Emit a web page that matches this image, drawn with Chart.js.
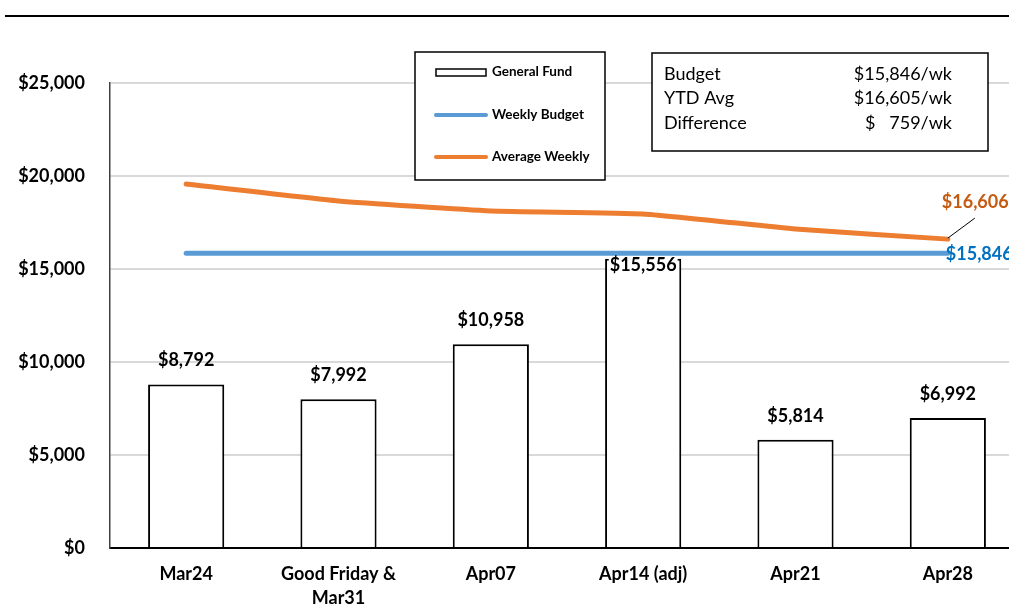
<!DOCTYPE html>
<html>
<head>
<meta charset="utf-8">
<script src="https://cdn.jsdelivr.net/npm/chart.js@4.4.1/dist/chart.umd.min.js"></script>
<style>
  html, body { margin: 0; padding: 0; background: #fff; overflow: hidden; }
  #wrap { position: relative; width: 1040px; height: 605px; }
</style>
</head>
<body>
<div id="wrap"><canvas id="fund-chart"></canvas></div>
<script>
const categories = ['Mar24', ['Good Friday &', 'Mar31'], 'Apr07', 'Apr14 (adj)', 'Apr21', 'Apr28'];
const generalFund = [8792, 7992, 10958, 15556, 5814, 6992];
const weeklyBudget = [15846, 15846, 15846, 15846, 15846, 15846];
const averageWeekly = [19570, 18660, 18120, 17960, 17150, 16606];
const yMin = 0, yMax = 25000, yStep = 5000;
const infoLabels = ['Budget', 'YTD Avg', 'Difference'];
const infoValues = ['$15,846/wk', '$16,605/wk', '$   759/wk'];

const FONT = 'Lato, "Noto Sans", sans-serif';
const money = v => '$' + v.toLocaleString('en-US');

// labels, boxes and the little leader line
const extras = {
  id: 'extras',
  afterDatasetsDraw(chart) {
    const ctx = chart.ctx;
    ctx.save();
    ctx.font = 'bold 18px ' + FONT;
    ctx.textAlign = 'center';
    ctx.textBaseline = 'middle';
    const bars = chart.getDatasetMeta(0).data;
    bars.forEach((bar, i) => {
      const txt = money(generalFund[i]);
      if (i === 3) {
        // this one sits on the bar top, with a white back
        const w = ctx.measureText(txt).width;
        const y = bar.y + 7;
        ctx.fillStyle = '#fff';
        ctx.fillRect(bar.x - w / 2 - 1, y - 9, w + 2, 17);
        ctx.fillStyle = '#000';
        ctx.fillText(txt, bar.x, y);
      } else {
        ctx.fillStyle = '#000';
        ctx.fillText(txt, bar.x, bar.y - 24);
      }
    });

    // end labels
    const avgPt = chart.getDatasetMeta(2).data[5];
    const budPt = chart.getDatasetMeta(1).data[5];
    ctx.textAlign = 'left';
    ctx.fillStyle = '#C55A11';
    ctx.fillText(money(averageWeekly[5]), avgPt.x - 6, avgPt.y - 37);
    ctx.fillStyle = '#0070C0';
    ctx.fillText(money(weeklyBudget[5]), budPt.x - 2, budPt.y + 1);
    ctx.strokeStyle = '#000';
    ctx.lineWidth = 1;
    ctx.beginPath();
    ctx.moveTo(avgPt.x, avgPt.y - 1);
    ctx.lineTo(avgPt.x + 27, avgPt.y - 21);
    ctx.stroke();
    ctx.restore();
  },
  afterDraw(chart) {
    const ctx = chart.ctx;
    ctx.save();
    // top rule
    ctx.strokeStyle = '#000';
    ctx.lineWidth = 2;
    ctx.beginPath();
    ctx.moveTo(5, 16);
    ctx.lineTo(1040, 16);
    ctx.stroke();

    // legend box
    ctx.fillStyle = '#fff';
    ctx.fillRect(415, 52, 190, 128);
    ctx.lineWidth = 1.5;
    ctx.strokeRect(415, 52, 190, 128);
    ctx.lineWidth = 1.5;
    ctx.strokeRect(436, 69, 50, 7);
    ctx.lineCap = 'round';
    ctx.lineWidth = 4;
    ctx.strokeStyle = '#5B9BD5';
    ctx.beginPath(); ctx.moveTo(436, 115); ctx.lineTo(486, 115); ctx.stroke();
    ctx.strokeStyle = '#ED7D31';
    ctx.beginPath(); ctx.moveTo(436, 157); ctx.lineTo(486, 157); ctx.stroke();
    ctx.fillStyle = '#000';
    ctx.font = 'bold 13.5px ' + FONT;
    ctx.textAlign = 'left';
    ctx.textBaseline = 'middle';
    ctx.fillText('General Fund', 492, 72);
    ctx.fillText('Weekly Budget', 492, 115);
    ctx.fillText('Average Weekly', 492, 157);

    // info box
    ctx.fillStyle = '#fff';
    ctx.fillRect(652, 53, 336, 98);
    ctx.strokeStyle = '#000';
    ctx.lineWidth = 1.5;
    ctx.strokeRect(652, 53, 336, 98);
    ctx.fillStyle = '#000';
    ctx.font = '18px ' + FONT;
    infoLabels.forEach((lab, i) => {
      const y = 74 + i * 24.5;
      ctx.textAlign = 'left';
      ctx.fillText(lab, 664, y);
      ctx.textAlign = 'right';
      ctx.fillText(infoValues[i], 952, y);
    });
    ctx.restore();
  }
};

new Chart(document.getElementById('fund-chart'), {
  data: {
    labels: categories,
    datasets: [
      {
        type: 'bar',
        label: 'General Fund',
        data: generalFund,
        backgroundColor: '#fff',
        borderColor: '#000',
        borderWidth: 2,
        categoryPercentage: 1,
        barPercentage: 0.5,
        order: 3
      },
      {
        type: 'line',
        label: 'Weekly Budget',
        data: weeklyBudget,
        borderColor: '#5B9BD5',
        borderWidth: 5,
        borderCapStyle: 'round',
        pointRadius: 0,
        order: 2
      },
      {
        type: 'line',
        label: 'Average Weekly',
        data: averageWeekly,
        borderColor: '#ED7D31',
        borderWidth: 5,
        borderCapStyle: 'round',
        pointRadius: 0,
        tension: 0.15,
        order: 1
      }
    ]
  },
  options: {
    responsive: true,
    maintainAspectRatio: false,
    animation: false,
    layout: { padding: { top: 83, right: 16, left: 0, bottom: 0 } },
    plugins: {
      legend: { display: false },
      tooltip: { enabled: false }
    },
    scales: {
      x: {
        offset: true,
        grid: { display: true, drawOnChartArea: false, drawTicks: false },
        border: { display: true, color: '#000', width: 2 },
        ticks: {
          color: '#000',
          font: { family: FONT, size: 18, weight: 'bold', lineHeight: 1.33 },
          padding: 14,
          maxRotation: 0,
          autoSkip: false
        },
        afterFit(scale) { scale.height = 57; }
      },
      y: {
        min: yMin,
        max: yMax,
        ticks: {
          stepSize: yStep,
          color: '#000',
          padding: 25,
          font: { family: FONT, size: 18, weight: 'bold' },
          callback: v => money(v)
        },
        grid: { color: '#d9d9d9', lineWidth: 2, drawTicks: false },
        border: { display: true, color: '#404040', width: 1.5 },
        afterFit(scale) { scale.width = 110; }
      }
    }
  },
  plugins: [extras]
});
</script>
</body>
</html>
